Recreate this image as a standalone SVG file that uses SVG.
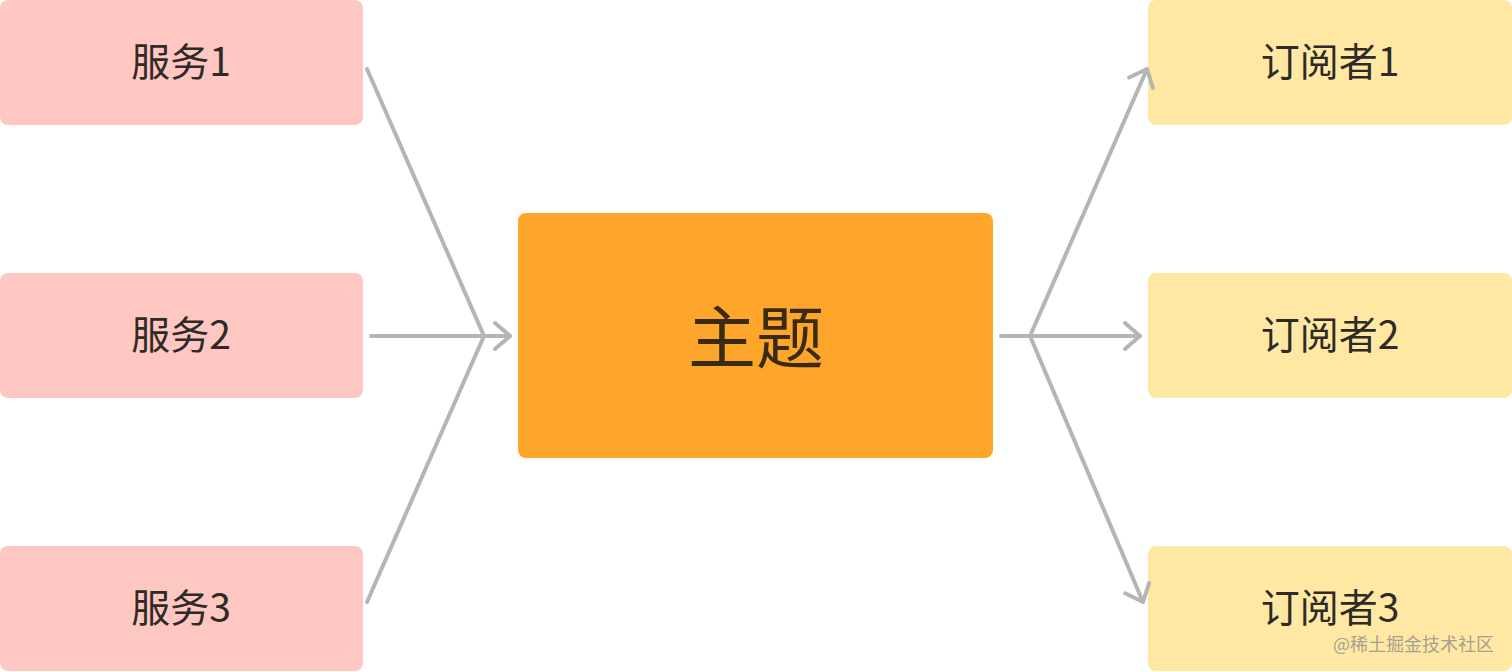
<svg xmlns="http://www.w3.org/2000/svg" width="1512" height="672" viewBox="0 0 1512 672">
<defs>
<style>
.svc{fill:#FFC7C2}
.sub{fill:#FFE8A3}
.topic{fill:#FEA62B}
.lbl{font-family:"Noto Sans CJK SC","Noto Sans",sans-serif;font-size:39px;fill:#2E2A28;text-anchor:middle;dominant-baseline:central}
.big{font-family:"Noto Sans CJK SC","Noto Sans",sans-serif;font-size:68px;fill:#3A2A12;text-anchor:middle;dominant-baseline:central}
.wm{font-family:"Noto Sans CJK SC","Noto Sans",sans-serif;font-size:18px;fill:#8C8C8C;fill-opacity:0.8}
.ln{stroke:#B5B5B5;stroke-width:4;stroke-linecap:round;stroke-linejoin:round;fill:none}
</style>
<marker id="arr" markerUnits="userSpaceOnUse" markerWidth="40" markerHeight="40" refX="20" refY="20" orient="auto" overflow="visible">
<path d="M5,7 L20,20 L5,33" fill="none" stroke="#B5B5B5" stroke-width="4" stroke-linecap="round" stroke-linejoin="round"/>
</marker>
</defs>
<rect width="1512" height="672" fill="#FFFFFF"/>
<g id="svc1"><rect class="svc" x="0" y="0" width="363" height="125" rx="8"/><text class="lbl" x="181" y="59">服务1</text></g>
<g id="svc2"><rect class="svc" x="0" y="273" width="363" height="125" rx="8"/><text class="lbl" x="181" y="332">服务2</text></g>
<g id="svc3"><rect class="svc" x="0" y="546" width="363" height="125" rx="8"/><text class="lbl" x="181" y="605">服务3</text></g>
<g id="topic"><rect class="topic" x="518" y="213" width="475" height="245" rx="8"/><text class="big" x="756" y="333">主题</text></g>
<g id="sub1"><rect class="sub" x="1148" y="0" width="364" height="125" rx="8"/><text class="lbl" x="1330" y="59">订阅者1</text></g>
<g id="sub2"><rect class="sub" x="1148" y="273" width="364" height="125" rx="8"/><text class="lbl" x="1330" y="332">订阅者2</text></g>
<g id="sub3"><rect class="sub" x="1148" y="546" width="364" height="125" rx="8"/><text class="lbl" x="1330" y="605">订阅者3</text></g>
<g id="connectors">
<path class="ln" d="M367,69 L484,336"/>
<path class="ln" d="M367,602 L484,336"/>
<path class="ln" d="M371,336 L510,336" marker-end="url(#arr)"/>
<path class="ln" d="M1001,336 L1140,336" marker-end="url(#arr)"/>
<path class="ln" d="M1030,336 L1147,69" marker-end="url(#arr)"/>
<path class="ln" d="M1030,336 L1143,602" marker-end="url(#arr)"/>
</g>
<text class="wm" x="1333" y="651">@稀土掘金技术社区</text>
</svg>
